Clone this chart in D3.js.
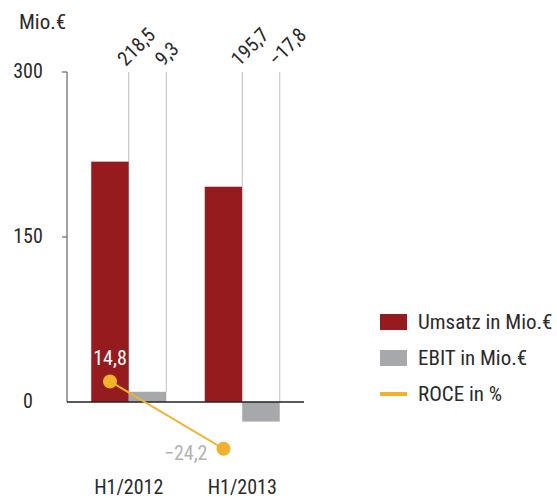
<!DOCTYPE html>
<html>
<head>
<meta charset="utf-8">
<script src="https://cdn.jsdelivr.net/npm/d3@7"></script>
<style>
  html, body { margin: 0; padding: 0; background: #fff; }
  svg { display: block; }
  text { font-family: "Roboto Condensed", "Liberation Sans Narrow", "Noto Sans Condensed", Roboto, sans-serif; font-weight: 400; fill: #2a2a2a; }
</style>
</head>
<body>
<svg id="chart" width="557" height="500"></svg>
<script>
const categories = ["H1/2012", "H1/2013"];
const seriesNames = ["Umsatz in Mio.€", "EBIT in Mio.€"];
const umsatz = [218.5, 195.7];
const ebit = [9.3, -17.8];
const roce = [14.8, -24.2];
const umsatzLabels = ["218,5", "195,7"];
const ebitLabels = ["9,3", "−17,8"];
const roceLabels = ["14,8", "−24,2"];
const yTicks = [0, 150, 300];
const legendNames = ["Umsatz in Mio.€", "EBIT in Mio.€", "ROCE in %"];

const colors = { umsatz: "#961b1e", ebit: "#a7a8ab", roce: "#f0b12f" };
const fs = 20;
const fsL = 21;

const svg = d3.select("#chart");

const x0 = d3.scaleBand().domain(categories).range([67, 304]).paddingInner(0.339).paddingOuter(0.2136);
const x1 = d3.scaleBand().domain(seriesNames).range([0, x0.bandwidth()]).padding(0);
const y = d3.scaleLinear().domain([0, 300]).range([402, 72]);
const y2 = d3.scaleLinear().domain([-40, 40]).range([476, 338]);

const bars = [];
categories.forEach((c, i) => {
  bars.push({ cat: c, s: seriesNames[0], v: umsatz[i], label: umsatzLabels[i], color: colors.umsatz });
  bars.push({ cat: c, s: seriesNames[1], v: ebit[i], label: ebitLabels[i], color: colors.ebit });
});

// guide lines above bars
svg.append("g").selectAll("line").data(bars).join("line")
  .attr("x1", d => x0(d.cat) + x1(d.s) + x1.bandwidth())
  .attr("x2", d => x0(d.cat) + x1(d.s) + x1.bandwidth())
  .attr("y1", y(300))
  .attr("y2", d => y(Math.max(0, d.v)))
  .attr("stroke", "#bdbdbd").attr("stroke-width", 1);

// bars
svg.append("g").selectAll("rect").data(bars).join("rect")
  .attr("x", d => x0(d.cat) + x1(d.s))
  .attr("width", x1.bandwidth())
  .attr("y", d => y(Math.max(0, d.v)))
  .attr("height", d => Math.abs(y(d.v) - y(0)))
  .attr("fill", d => d.color);

// rotated value labels
svg.append("g").selectAll("text").data(bars).join("text")
  .attr("transform", d => `translate(${x0(d.cat) + x1(d.s) + x1.bandwidth() - 3},67) rotate(-45)`)
  .attr("font-size", fs)
  .text(d => d.label);

// y axis
const axis = svg.append("g");
axis.append("line").attr("x1", 67).attr("x2", 67).attr("y1", y(300)).attr("y2", y(0))
  .attr("stroke", "#666").attr("stroke-width", 1.2);
axis.selectAll("line.tick").data(yTicks.filter(t => t > 0)).join("line").attr("class", "tick")
  .attr("x1", 62).attr("x2", 67).attr("y1", d => y(d)).attr("y2", d => y(d))
  .attr("stroke", "#666").attr("stroke-width", 1.2);
axis.selectAll("text").data(yTicks).join("text")
  .attr("x", 28).attr("y", d => y(d) + 6)
  .attr("text-anchor", "middle").attr("font-size", fs)
  .text(d => d);
svg.append("text").attr("x", 19).attr("y", 29).attr("font-size", fsL).text("Mio.€");

// x axis
svg.append("line").attr("x1", 67).attr("x2", 304).attr("y1", y(0)).attr("y2", y(0))
  .attr("stroke", "#222").attr("stroke-width", 1.5);

svg.append("g").selectAll("text").data(categories).join("text")
  .attr("x", d => x0(d) + x0.bandwidth() / 2).attr("y", 494)
  .attr("text-anchor", "middle").attr("font-size", fs)
  .text(d => d);

// ROCE line
const rocePts = categories.map((c, i) => ({ x: x0(c) + x1(seriesNames[0]) + x1.bandwidth() / 2, y: y2(roce[i]), label: roceLabels[i], v: roce[i] }));
svg.append("path").datum(rocePts)
  .attr("d", d3.line().x(d => d.x).y(d => d.y))
  .attr("fill", "none").attr("stroke", colors.roce).attr("stroke-width", 2);
svg.append("g").selectAll("circle").data(rocePts).join("circle")
  .attr("cx", d => d.x).attr("cy", d => d.y).attr("r", 7).attr("fill", colors.roce);
svg.append("text").attr("x", rocePts[0].x).attr("y", rocePts[0].y - 16)
  .attr("text-anchor", "middle").attr("font-size", fs).style("fill", "#fff").text(rocePts[0].label);
svg.append("text").attr("x", rocePts[1].x - 16).attr("y", rocePts[1].y + 11)
  .attr("text-anchor", "end").attr("font-size", fs).style("fill", "#b3b3b3").text(rocePts[1].label);

// legend
const leg = svg.append("g");
const legColors = [colors.umsatz, colors.ebit, colors.roce];
legendNames.forEach((n, i) => {
  const cy = 322 + i * 36;
  if (i < 2) {
    leg.append("rect").attr("x", 380).attr("y", cy - 8).attr("width", 27).attr("height", 16).attr("fill", legColors[i]);
  } else {
    leg.append("rect").attr("x", 380).attr("y", cy - 2).attr("width", 27).attr("height", 4).attr("fill", legColors[i]);
  }
  leg.append("text").attr("x", 418).attr("y", cy + 7).attr("font-size", fsL).text(n);
});
</script>
</body>
</html>
